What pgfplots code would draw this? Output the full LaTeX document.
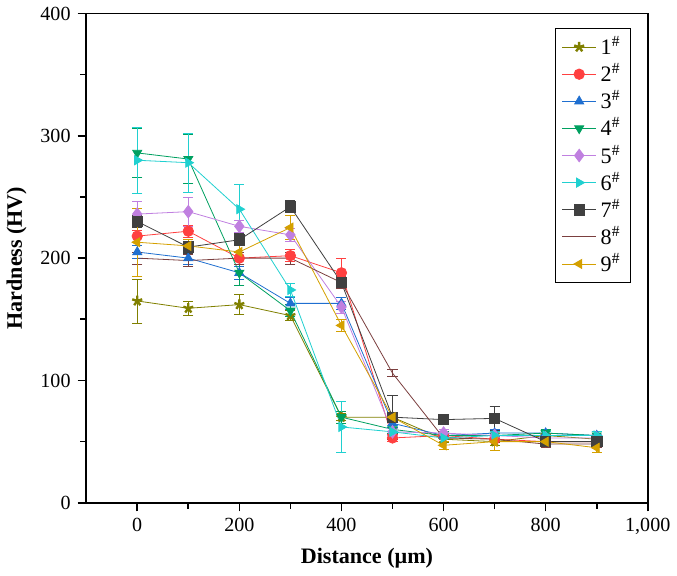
\documentclass[border=0pt]{standalone}
\usepackage{pgfplots}
\pgfplotsset{compat=1.18}
\usepackage{fontspec}
\setmainfont{Liberation Serif}
\definecolor{c1}{HTML}{808000}
\definecolor{c2}{HTML}{FF4040}
\definecolor{c3}{HTML}{1F6FD0}
\definecolor{c4}{HTML}{00A060}
\definecolor{c5}{HTML}{C080E0}
\definecolor{c6}{HTML}{20D0D0}
\definecolor{c7}{HTML}{404040}
\definecolor{c8}{HTML}{7B3F3F}
\definecolor{c9}{HTML}{D4A000}
\begin{document}
\begin{tikzpicture}
\begin{axis}[
 scale only axis, width=280pt, height=244pt,
 xmin=-100, xmax=1000, ymin=0, ymax=400,
 xtick={0,200,400,600,800,1000}, ytick={0,100,200,300,400},
 tick align=outside, tick style={black,thick}, axis line style={thick},
 xtick pos=bottom, ytick pos=left,
 minor x tick num=1, minor y tick num=1,
 /pgf/number format/assume math mode=true,
 ticklabel style={font=\fontsize{10}{12}\selectfont},
 xlabel={\textbf{Distance (\textmu m)}}, ylabel={\textbf{Hardness (HV)}},
 label style={font=\fontsize{11}{13}\selectfont},
 legend pos=north east, legend cell align=left,
 legend style={font=\fontsize{11}{13}\selectfont, row sep=-1pt},
 every axis plot/.append style={thin, mark size=2.6pt, error bars/y dir=both, error bars/y explicit, error bars/error mark options={rotate=90,mark size=2.5pt,thin}},
]
\addplot[c1, mark=star, mark options={fill=c1, very thick}] coordinates {(0,165)+-(0,18) (100,159)+-(0,6) (200,162)+-(0,8) (300,153)+-(0,4) (400,70)+-(0,3) (500,70)+-(0,3) (600,52)+-(0,3) (700,50)+-(0,3) (800,55)+-(0,3) (900,52)+-(0,3)};
\addlegendentry{1$^{\#}$}
\addplot[c2, mark=*, mark options={fill=c2}] coordinates {(0,218)+-(0,5) (100,222)+-(0,5) (200,200)+-(0,5) (300,202)+-(0,5) (400,188)+-(0,12) (500,53)+-(0,3) (600,55)+-(0,3) (700,52)+-(0,3) (800,50)+-(0,3) (900,50)+-(0,3)};
\addlegendentry{2$^{\#}$}
\addplot[c3, mark=triangle*, mark options={fill=c3}] coordinates {(0,205)+-(0,5) (100,200)+-(0,5) (200,188)+-(0,5) (300,163)+-(0,5) (400,163)+-(0,5) (500,65)+-(0,3) (600,55)+-(0,3) (700,57)+-(0,3) (800,57)+-(0,3) (900,55)+-(0,3)};
\addlegendentry{3$^{\#}$}
\addplot[c4, mark=triangle*, mark options={fill=c4, rotate=180}] coordinates {(0,286)+-(0,20) (100,281)+-(0,20) (200,188)+-(0,10) (300,157)+-(0,5) (400,70)+-(0,5) (500,60)+-(0,3) (600,55)+-(0,3) (700,55)+-(0,3) (800,57)+-(0,3) (900,55)+-(0,3)};
\addlegendentry{4$^{\#}$}
\addplot[c5, mark=diamond*, mark options={fill=c5, scale=1.2}] coordinates {(0,236)+-(0,10) (100,238)+-(0,12) (200,226)+-(0,5) (300,219)+-(0,5) (400,160)+-(0,5) (500,58)+-(0,3) (600,57)+-(0,3) (700,55)+-(0,3) (800,53)+-(0,3) (900,53)+-(0,3)};
\addlegendentry{5$^{\#}$}
\addplot[c6, mark=triangle*, mark options={fill=c6, rotate=-90}] coordinates {(0,280)+-(0,27) (100,278)+-(0,24) (200,240)+-(0,20) (300,174)+-(0,5) (400,62)+-(0,21) (500,58)+-(0,5) (600,53)+-(0,3) (700,55)+-(0,3) (800,55)+-(0,3) (900,55)+-(0,3)};
\addlegendentry{6$^{\#}$}
\addplot[c7, mark=square*, mark options={fill=c7}] coordinates {(0,230)+-(0,5) (100,209)+-(0,5) (200,215)+-(0,5) (300,242)+-(0,5) (400,180)+-(0,5) (500,70)+-(0,18) (600,68)+-(0,3) (700,69)+-(0,10) (800,50)+-(0,3) (900,50)+-(0,3)};
\addlegendentry{7$^{\#}$}
\addplot[c8, mark=hexagon*, mark options={fill=c8}, mark size=3pt] coordinates {(0,200)+-(0,5) (100,198)+-(0,5) (200,200)+-(0,5) (300,200)+-(0,5) (400,180)+-(0,5) (500,106)+-(0,3) (600,53)+-(0,3) (700,52)+-(0,3) (800,48)+-(0,3) (900,48)+-(0,3)};
\addlegendentry{8$^{\#}$}
\addplot[c9, mark=triangle*, mark options={fill=c9, rotate=90}] coordinates {(0,213)+-(0,28) (100,210)+-(0,5) (200,205)+-(0,5) (300,225)+-(0,10) (400,145)+-(0,5) (500,70)+-(0,3) (600,47)+-(0,3) (700,50)+-(0,7) (800,50)+-(0,3) (900,45)+-(0,4)};
\addlegendentry{9$^{\#}$}
\end{axis}
\end{tikzpicture}
\end{document}
